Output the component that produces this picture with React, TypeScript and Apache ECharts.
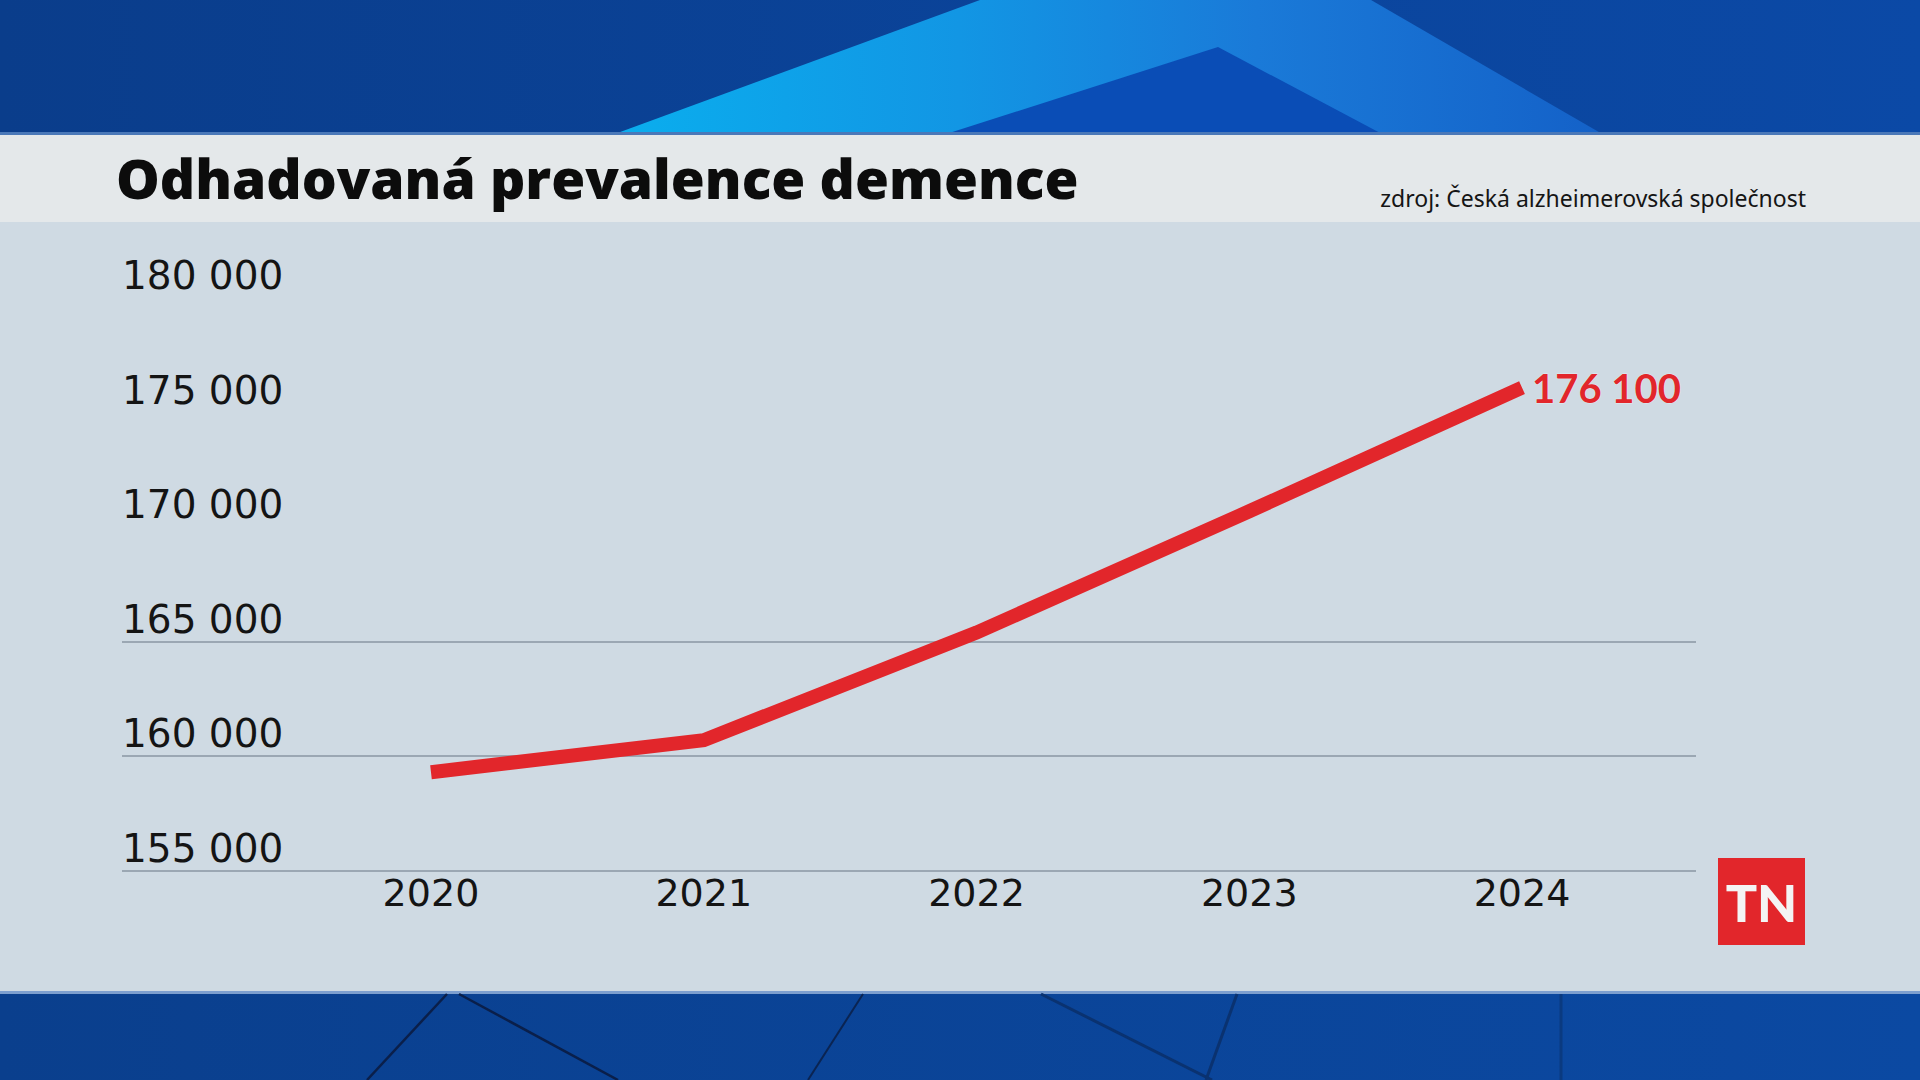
import React, { useEffect, useRef } from "react";
import * as echarts from "echarts";

// ---- data ----
const years: string[] = ["2020", "2021", "2022", "2023", "2024"];
const prevalence: number[] = [159300, 160700, 165400, 170700, 176100];
const yMin = 155000;
const yMax = 180000;
const yStep = 5000;
const gridLineValues: number[] = [155000, 160000, 165000];

const titleText = "Odhadovaná prevalence demence";
const sourceText = "zdroj: Česká alzheimerovská společnost";
const logoText = "TN";

const fmt = (v: number) => String(Math.round(v)).replace(/\B(?=(\d{3})+(?!\d))/g, " ");

const RED = "#e2262b";
const GRID_COLOR = "#9ba7b3";

function buildOption() {
  const splitColors: string[] = [];
  for (let v = yMin; v <= yMax; v += yStep) {
    splitColors.push(gridLineValues.includes(v) ? GRID_COLOR : "rgba(0,0,0,0)");
  }

  const top = 298.4;
  const bottom = 1080 - 870.6;

  return {
    animation: false,
    backgroundColor: "#cfdae3",
    grid: [
      { left: 122, right: 224, top, bottom, containLabel: false },
      { left: 294.6, right: 261.6, top, bottom, containLabel: false },
    ],
    xAxis: [
      { gridIndex: 0, type: "value", min: 0, max: 1, show: false },
      {
        gridIndex: 1,
        type: "category",
        data: years,
        boundaryGap: true,
        axisLine: { show: false },
        axisTick: { show: false },
        splitLine: { show: false },
        axisLabel: {
          color: "#141414",
          fontFamily: "DejaVu Sans",
          fontSize: 38,
          lineHeight: 38,
          margin: 3,
        },
      },
    ],
    yAxis: [
      {
        gridIndex: 0,
        type: "value",
        min: yMin,
        max: yMax,
        interval: yStep,
        axisLine: { show: false },
        axisTick: { show: false },
        splitLine: { show: true, lineStyle: { color: splitColors, width: 2 } },
        axisLabel: {
          inside: true,
          margin: 0,
          verticalAlign: "bottom",
          color: "#141414",
          fontFamily: "DejaVu Sans",
          fontSize: 39,
          lineHeight: 39,
          padding: [0, 0, 3, 0],
          formatter: (v: number) => fmt(v),
        },
      },
      {
        gridIndex: 1,
        type: "value",
        min: yMin,
        max: yMax,
        interval: yStep,
        show: false,
        splitLine: { show: false },
      },
    ],
    series: [
      {
        type: "line",
        xAxisIndex: 1,
        yAxisIndex: 1,
        data: prevalence,
        symbol: "none",
        showSymbol: false,
        lineStyle: { color: RED, width: 14, cap: "butt", join: "miter" },
        endLabel: {
          show: true,
          distance: 10,
          color: RED,
          fontFamily: "Lato",
          fontWeight: "bold",
          fontSize: 40,
          textBorderColor: "rgba(255,255,255,0.45)",
          textBorderWidth: 1,
          formatter: (p: any) => fmt(Array.isArray(p.value) ? p.value[p.value.length - 1] : p.value),
        },
        z: 5,
      },
    ],
    graphic: [
      // top blue band
      {
        type: "rect",
        shape: { x: 0, y: 0, width: 1920, height: 135 },
        style: {
          fill: {
            type: "linear", x: 0, y: 0, x2: 1, y2: 0,
            colorStops: [
              { offset: 0, color: "#0a3d8b" },
              { offset: 1, color: "#0b49a6" },
            ],
          },
        },
        silent: true,
      },
      {
        type: "polygon",
        shape: { points: [[612, 135], [980, 0], [1371, 0], [1604, 135]] },
        style: {
          fill: {
            type: "linear", x: 0, y: 0, x2: 1, y2: 0,
            colorStops: [
              { offset: 0, color: "#0aaeee" },
              { offset: 0.35, color: "#1296e4" },
              { offset: 0.65, color: "#1a7ad8" },
              { offset: 1, color: "#1461c8" },
            ],
          },
        },
        silent: true,
      },
      {
        type: "polygon",
        shape: { points: [[943, 135], [1218, 47], [1384, 135]] },
        style: { fill: "#0a4db6" },
        silent: true,
      },
      {
        type: "rect",
        shape: { x: 0, y: 132, width: 1920, height: 3 },
        style: { fill: "#4a78b8" },
        silent: true,
      },
      // title band
      {
        type: "rect",
        shape: { x: 0, y: 135, width: 1920, height: 87 },
        style: { fill: "#e4e8ea" },
        silent: true,
      },
      {
        type: "text",
        x: 116,
        y: 177,
        style: {
          text: titleText,
          fill: "#0c0c0c",
          fontFamily: "Open Sans",
          fontWeight: 800,
          fontSize: 55,
          align: "left",
          verticalAlign: "middle",
        },
        silent: true,
      },
      {
        type: "text",
        x: 1806,
        y: 198,
        style: {
          text: sourceText,
          fill: "#151515",
          fontFamily: "Noto Sans",
          fontSize: 23,
          align: "right",
          verticalAlign: "middle",
        },
        silent: true,
      },
      // bottom blue band
      {
        type: "rect",
        shape: { x: 0, y: 992, width: 1920, height: 88 },
        style: {
          fill: {
            type: "linear", x: 0, y: 0, x2: 1, y2: 0,
            colorStops: [
              { offset: 0, color: "#0a3f8d" },
              { offset: 1, color: "#0b49a2" },
            ],
          },
        },
        silent: true,
      },
      {
        type: "rect",
        shape: { x: 0, y: 991, width: 1920, height: 3 },
        style: { fill: "#7d9fcf" },
        silent: true,
      },
      { type: "line", shape: { x1: 447, y1: 994, x2: 367, y2: 1080 }, style: { stroke: "#0a1f4a", lineWidth: 2.5 }, silent: true },
      { type: "line", shape: { x1: 459, y1: 994, x2: 618, y2: 1080 }, style: { stroke: "#0a1f4a", lineWidth: 2.5 }, silent: true },
      { type: "line", shape: { x1: 863, y1: 994, x2: 808, y2: 1080 }, style: { stroke: "#0a2452", lineWidth: 2 }, silent: true },
      { type: "line", shape: { x1: 1041, y1: 994, x2: 1212, y2: 1080 }, style: { stroke: "#0a3270", lineWidth: 3 }, silent: true },
      { type: "line", shape: { x1: 1237, y1: 994, x2: 1206, y2: 1080 }, style: { stroke: "#0a3270", lineWidth: 3 }, silent: true },
      { type: "line", shape: { x1: 1561, y1: 994, x2: 1561, y2: 1080 }, style: { stroke: "#0a3a80", lineWidth: 3 }, silent: true },
      // TN logo
      {
        type: "rect",
        shape: { x: 1718, y: 858, width: 87, height: 87 },
        style: { fill: RED },
        silent: true,
      },
      {
        type: "text",
        x: 1761.5,
        y: 902,
        style: {
          text: logoText,
          fill: "#f4f4f4",
          fontFamily: "Lato",
          fontWeight: 900,
          fontSize: 52,
          align: "center",
          verticalAlign: "middle",
        },
        silent: true,
      },
    ],
  };
}

export default function App() {
  const ref = useRef<HTMLDivElement>(null);
  useEffect(() => {
    if (!ref.current) return;
    const chart = echarts.init(ref.current, null, { renderer: "svg", width: 1920, height: 1080 });
    chart.setOption(buildOption() as any);
    return () => {
      chart.dispose();
    };
  }, []);
  return (
    <div
      ref={ref}
      style={{ position: "fixed", left: 0, top: 0, width: 1920, height: 1080 }}
    />
  );
}
